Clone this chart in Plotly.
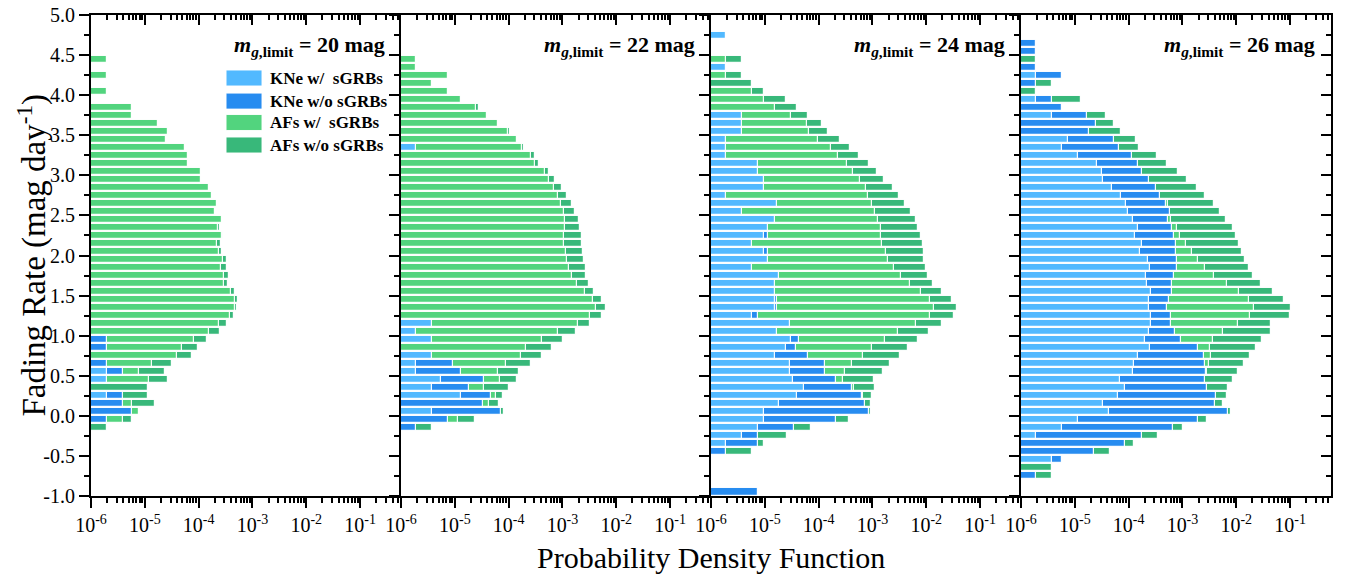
import plotly.graph_objects as go

N = None

# Fading-rate bin centres (mag/day), shared by every panel
rate_bins = [-0.95, -0.85, -0.75, -0.65, -0.55, -0.45, -0.35, -0.25, -0.15, -0.05,
             0.05, 0.15, 0.25, 0.35, 0.45, 0.55, 0.65, 0.75, 0.85, 0.95,
             1.05, 1.15, 1.25, 1.35, 1.45, 1.55, 1.65, 1.75, 1.85, 1.95,
             2.05, 2.15, 2.25, 2.35, 2.45, 2.55, 2.65, 2.75, 2.85, 2.95,
             3.05, 3.15, 3.25, 3.35, 3.45, 3.55, 3.65, 3.75, 3.85, 3.95,
             4.05, 4.15, 4.25, 4.35, 4.45, 4.55, 4.65, 4.75, 4.85, 4.95]

series_names = ["KNe w/  sGRBs", "KNe w/o sGRBs", "AFs w/  sGRBs", "AFs w/o sGRBs"]
series_colors = ["#52B9FF", "#278CF0", "#52D47E", "#38B87A"]
panel_limits = ["20", "22", "24", "26"]

x_tick_vals = [1e-6, 1e-5, 1e-4, 1e-3, 1e-2, 1e-1]
x_tick_text = ["10<sup>-6</sup>", "10<sup>-5</sup>", "10<sup>-4</sup>",
               "10<sup>-3</sup>", "10<sup>-2</sup>", "10<sup>-1</sup>"]
y_tick_vals = [-1.0, -0.5, 0.0, 0.5, 1.0, 1.5, 2.0, 2.5, 3.0, 3.5, 4.0, 4.5, 5.0]
y_tick_text = ["-1.0", "-0.5", "0.0", "0.5", "1.0", "1.5", "2.0", "2.5", "3.0",
               "3.5", "4.0", "4.5", "5.0"]

# log10(PDF) at the right edge of each stacked segment, per bin (None = no segment)
# ---- m_g,limit = 20 mag
m20_kne_w = [N, N, N, N, N, N, N, N, N, N,
             N, N, -5.70, N, -5.70, -5.70, N, N, N, N,
             N, N, N, N, N, N, N, N, N, N,
             N, N, N, N, N, N, N, N, N, N,
             N, N, N, N, N, N, N, N, N, N,
             N, N, N, N, N, N, N, N, N, N]
m20_kne_wo = [N, N, N, N, N, N, N, N, N, -5.70,
              -5.23, -5.41, -5.41, N, N, -5.41, -5.70, N, -5.70, -5.70,
              N, N, N, N, N, N, N, N, N, N,
              N, N, N, N, N, N, N, N, N, N,
              N, N, N, N, N, N, N, N, N, N,
              N, N, N, N, N, N, N, N, N, N]
m20_af_w = [N, N, N, N, N, N, N, N, N, -5.41,
            -5.11, -5.23, N, N, -4.93, -5.11, -4.86, -4.41, -4.30, -4.08,
            -3.80, -3.62, -3.42, -3.32, -3.32, -3.40, -3.52, -3.53, -3.59, -3.55,
            -3.62, -3.65, -3.57, -3.64, -3.57, -3.69, -3.66, -3.75, -3.80, -3.95,
            -3.95, -4.20, -4.19, -4.25, -4.60, -4.57, -4.76, -5.23, -5.23, N,
            -5.70, N, -5.70, N, -5.70, N, N, N, N, N]
m20_af_wo = [N, N, N, N, N, N, N, N, -5.70, -5.23,
             N, -4.81, -4.94, -4.94, -4.57, -4.63, -4.49, -4.12, -4.02, -3.84,
             -3.61, -3.47, -3.35, -3.28, -3.27, -3.32, -3.45, -3.43, -3.48, -3.48,
             -3.56, -3.58, -3.54, -3.61, N, N, N, N, N, N,
             N, N, N, N, N, N, N, N, N, N,
             N, N, N, N, N, N, N, N, N, N]

# ---- m_g,limit = 22 mag
m22_kne_w = [N, N, N, N, N, N, N, N, N, N,
             -5.43, N, -4.88, -5.43, -5.25, -5.72, -5.72, -5.43, N, -5.43,
             -5.72, -5.43, N, N, N, N, N, N, N, N,
             N, N, N, N, N, N, N, N, N, N,
             N, N, N, -5.72, N, N, N, N, N, N,
             N, N, N, N, N, N, N, N, N, N]
m22_kne_wo = [N, N, N, N, N, N, N, N, -5.72, -5.12,
              -4.14, -4.48, -4.32, -4.73, -4.46, -4.88, -5.03, N, N, N,
              N, N, N, N, N, N, N, N, N, N,
              N, N, N, N, N, N, N, N, N, N,
              N, N, N, N, N, N, N, N, N, N,
              N, N, N, N, N, N, N, N, N, N]
m22_af_w = [N, N, N, N, N, N, N, N, N, -4.94,
            N, -4.36, -4.23, -4.46, -4.16, -4.20, -4.04, -3.77, -3.68, -3.38,
            -3.08, -2.72, -2.48, -2.38, -2.44, -2.59, -2.73, -2.83, -2.88, -2.92,
            -2.94, -2.97, -2.98, -2.96, -2.96, -2.98, -3.03, -3.08, -3.15, -3.25,
            -3.32, -3.51, -3.59, -3.75, -3.85, -4.01, -4.20, -4.41, -4.61, -4.89,
            -5.12, -5.43, -5.12, -5.72, -5.72, N, N, N, N, N]
m22_af_wo = [N, N, N, N, N, N, N, N, -5.43, -4.62,
             -4.08, -4.17, -4.11, -4.00, -3.85, -3.81, -3.59, -3.38, -3.20, -2.99,
             -2.75, -2.48, -2.26, -2.19, -2.27, -2.41, -2.51, -2.57, -2.57, -2.60,
             -2.61, -2.63, -2.64, -2.67, -2.70, -2.76, -2.83, -2.91, -3.01, -3.13,
             -3.25, -3.43, -3.51, -3.72, N, -3.97, N, N, -4.56, N,
             N, N, N, N, N, N, N, N, N, N]

# ---- m_g,limit = 24 mag
m24_kne_w = [N, N, N, N, N, N, -5.72, -5.42, -5.12, -5.02,
             -5.02, -4.73, -4.41, -4.27, -4.47, -4.54, -4.54, -4.82, -4.61, -4.52,
             -4.77, -4.54, -5.24, -4.82, -4.82, -4.82, -4.82, -4.73, -5.24, -4.95,
             -5.02, -5.24, -5.02, -4.95, -4.82, -5.42, -4.77, -5.72, -5.02, -5.02,
             -5.12, -5.12, -5.72, -5.72, -5.72, -5.42, -5.42, -5.42, N, N,
             N, N, N, -5.72, N, N, N, -5.72, N, N]
m24_kne_wo = [-5.12, N, N, N, N, -5.72, -5.12, -5.12, -4.45, -3.67,
              -3.07, -3.14, -3.19, -3.38, -3.68, -3.88, -3.88, -4.20, -4.43, -4.36,
              N, N, -5.12, -4.77, -4.77, N, N, N, N, N,
              -4.95, N, -4.95, N, N, N, N, N, N, N,
              N, N, N, N, N, N, N, N, N, N,
              N, N, N, N, N, N, N, N, N, N]
m24_af_w = [N, N, N, N, N, N, N, N, N, N,
            N, N, -3.17, -3.35, -3.54, -3.51, -3.38, -3.17, -3.01, -2.76,
            -2.52, -2.19, -1.93, -1.86, -1.93, -2.10, -2.31, -2.47, -2.60, -2.71,
            -2.75, -2.82, -2.85, -2.85, -2.90, -2.95, -3.01, -3.08, -3.12, -3.24,
            -3.36, -3.47, -3.64, -3.77, -4.02, -4.17, -4.21, -4.52, -4.82, -5.02,
            -5.24, N, -5.72, N, -5.72, N, N, N, N, N]
m24_af_wo = [N, N, N, N, N, -5.24, -5.02, -4.58, -4.14, -3.44,
             -3.02, -3.03, -3.01, -2.96, -2.97, -2.81, -2.67, -2.49, -2.34, -2.16,
             -1.95, -1.70, -1.49, -1.42, -1.52, -1.71, -1.87, -1.96, -2.01, -2.04,
             -2.04, -2.06, -2.09, -2.15, -2.20, -2.29, -2.40, -2.51, -2.62, -2.78,
             -2.91, -3.07, -3.25, -3.41, -3.60, -3.83, -3.94, -4.19, -4.41, -4.61,
             -5.02, -5.24, -5.42, N, -5.42, N, N, N, N, N]

# ---- m_g,limit = 26 mag
m26_kne_w = [N, N, N, N, -5.42, N, N, -5.72, -5.24, -4.95,
             -4.37, -4.48, -4.19, -4.06, -4.16, -3.92, -3.90, -3.82, -3.60, -3.69,
             -3.62, -3.58, -3.59, -3.62, -3.62, -3.58, -3.65, -3.67, -3.60, -3.64,
             -3.78, -3.76, -3.88, -3.82, -3.91, -4.01, -4.04, -4.14, -4.30, -4.47,
             -4.50, -4.59, -4.95, -5.24, -5.12, N, N, -5.42, N, -5.72,
             N, N, -5.72, N, N, N, N, N, N, N]
m26_kne_wo = [N, N, -5.72, N, -5.24, -4.64, -4.07, -3.75, -3.17, -2.71,
              -2.16, -2.40, -2.38, -2.54, -2.59, -2.57, -2.58, -2.60, -2.72, -3.03,
              -3.14, -3.21, -3.21, -3.29, -3.25, -3.20, -3.20, -3.16, -3.10, -3.10,
              -3.12, -3.12, -3.15, -3.19, -3.27, -3.23, -3.31, -3.41, -3.49, -3.62,
              -3.76, -3.82, -3.93, -4.17, -4.27, -4.73, -4.61, -4.77, -5.24, -5.42,
              N, -5.72, -5.24, -5.72, N, -5.72, -5.72, N, N, N]
m26_af_w = [N, N, N, N, N, N, N, N, N, N,
            N, N, N, N, N, -2.54, -2.51, -2.47, -2.48, -2.44,
            -2.25, -1.97, -1.75, -1.68, -1.77, -1.95, -2.18, -2.41, -2.58, -2.71,
            -2.83, -2.93, -3.04, -3.10, -3.22, N, -3.27, N, N, N,
            N, N, N, N, N, N, N, N, N, N,
            N, N, N, N, N, N, N, N, N, N]
m26_af_wo = [N, N, -5.42, -5.42, N, -4.35, -3.90, -3.46, -2.99, -2.54,
             -2.10, -2.25, -2.17, -2.16, -2.07, -1.97, -1.86, -1.74, -1.64, -1.52,
             -1.36, -1.35, -1.01, -0.99, -1.11, -1.32, -1.54, -1.69, -1.77, -1.83,
             -1.89, -1.95, -2.01, -2.07, -2.19, -2.30, -2.41, -2.59, -2.73, -2.92,
             -3.09, -3.28, -3.48, -3.80, -3.87, -4.15, -4.28, -4.43, N, -4.88,
             -5.72, -5.42, N, N, -5.72, N, N, N, N, N]

panels = [
    [m20_kne_w, m20_kne_wo, m20_af_w, m20_af_wo],
    [m22_kne_w, m22_kne_wo, m22_af_w, m22_af_wo],
    [m24_kne_w, m24_kne_wo, m24_af_w, m24_af_wo],
    [m26_kne_w, m26_kne_wo, m26_af_w, m26_af_wo],
]

FONT = "'Liberation Serif', 'Times New Roman', serif"
X_RANGE = [-6, -0.24]
Y_RANGE = [-1, 5]
x_minor = [k * v for v in [1e-6, 1e-5, 1e-4, 1e-3, 1e-2, 1e-1] for k in range(2, 10)]
y_minor = [-0.75, -0.25, 0.25, 0.75, 1.25, 1.75, 2.25, 2.75, 3.25, 3.75, 4.25, 4.75]

fig = go.Figure()

for p, series in enumerate(panels):
    xa = "x" if p == 0 else f"x{p+1}"
    ya = "y" if p == 0 else f"y{p+1}"
    # back-to-front so that each stacked segment's right edge stays visible
    for s in [3, 2, 1, 0]:
        vals = [None if v is None else 10 ** v for v in series[s]]
        fig.add_trace(go.Bar(
            orientation="h", y=rate_bins, x=vals, width=0.088,
            marker=dict(color=series_colors[s],
                        line=dict(color="rgba(255,255,255,0.95)", width=1.2)),
            name=series_names[s], xaxis=xa, yaxis=ya,
            showlegend=False, hoverinfo="skip"))
    # invisible anchor trace for the top (inward-tick) axis
    fig.add_trace(go.Scatter(x=[1e-3], y=[2], mode="markers",
                             marker=dict(opacity=0), xaxis=f"x{p+5}", yaxis=ya,
                             showlegend=False, hoverinfo="skip"))

fig.add_trace(go.Scatter(x=[1e-3], y=[2], mode="markers", marker=dict(opacity=0),
                         xaxis="x4", yaxis="y5", showlegend=False, hoverinfo="skip"))

tickfont = dict(family=FONT, size=20, color="black")
layout = dict(
    width=1346, height=574,
    margin=dict(l=91, r=15, t=15, b=78, autoexpand=False),
    paper_bgcolor="white", plot_bgcolor="white",
    barmode="overlay", bargap=0,
    font=dict(family=FONT, color="black"),
)

for p in range(4):
    kx = "xaxis" if p == 0 else f"xaxis{p+1}"
    ky = "yaxis" if p == 0 else f"yaxis{p+1}"
    layout[kx] = dict(
        domain=[p * 0.25, (p + 1) * 0.25], type="log", range=X_RANGE,
        anchor="y" if p == 0 else f"y{p+1}", automargin=False,
        tickmode="array", tickvals=x_tick_vals, ticktext=x_tick_text,
        ticks="outside", ticklen=10, tickwidth=2, tickcolor="black",
        minor=dict(tickvals=x_minor, ticks="outside", ticklen=5, tickwidth=1.5,
                   tickcolor="black", showgrid=False),
        showline=True, linewidth=2, linecolor="black", mirror=True,
        showgrid=False, zeroline=False, tickfont=tickfont, fixedrange=True,
        ticklabeloverflow="allow")
    layout[ky] = dict(
        domain=[0, 1], range=Y_RANGE,
        anchor="x" if p == 0 else f"x{p+1}", automargin=False,
        tickmode="array", tickvals=y_tick_vals, ticktext=y_tick_text,
        showticklabels=(p == 0),
        ticks="outside", ticklen=10, tickwidth=2, tickcolor="black",
        minor=dict(tickvals=y_minor, ticks="outside", ticklen=5, tickwidth=1.5,
                   tickcolor="black", showgrid=False),
        showline=True, linewidth=2, linecolor="black", mirror=(p == 3),
        showgrid=False, zeroline=False, tickfont=tickfont, fixedrange=True,
        ticklabeloverflow="allow")
    # top axis with inward ticks
    layout[f"xaxis{p+5}"] = dict(
        overlaying="x" if p == 0 else f"x{p+1}", side="top",
        anchor="y" if p == 0 else f"y{p+1}", automargin=False,
        type="log", range=X_RANGE,
        tickmode="array", tickvals=x_tick_vals, showticklabels=False,
        ticks="inside", ticklen=10, tickwidth=2, tickcolor="black",
        minor=dict(tickvals=x_minor, ticks="inside", ticklen=5, tickwidth=1.5,
                   tickcolor="black", showgrid=False),
        showline=False, showgrid=False, zeroline=False, fixedrange=True)

# right axis of the last panel with inward ticks
layout["yaxis5"] = dict(
    overlaying="y4", side="right", anchor="x4", range=Y_RANGE, automargin=False,
    tickmode="array", tickvals=y_tick_vals, showticklabels=False,
    ticks="inside", ticklen=10, tickwidth=2, tickcolor="black",
    minor=dict(tickvals=y_minor, ticks="inside", ticklen=5, tickwidth=1.5,
               tickcolor="black", showgrid=False),
    showline=False, showgrid=False, zeroline=False, fixedrange=True)

fig.update_layout(**layout)

annotations = []
shapes = []
for p, lim in enumerate(panel_limits):
    xd = "x domain" if p == 0 else f"x{p+1} domain"
    yd = "y domain" if p == 0 else f"y{p+1} domain"
    annotations.append(dict(
        text=f"<b><i>m</i><sub><i>g</i>,limit</sub> = {lim} mag</b>",
        xref=xd, yref=yd, x=0.955, y=0.935, xanchor="right", yanchor="middle",
        showarrow=False, font=dict(family=FONT, size=22, color="black")))

# legend (inside the first panel)
leg_rows = [0.869, 0.821, 0.7765, 0.7297]
for i, name in enumerate(series_names):
    yc = leg_rows[i]
    shapes.append(dict(type="rect", xref="paper", yref="paper",
                       x0=0.1089, x1=0.1379, y0=yc - 0.0166, y1=yc + 0.0166,
                       fillcolor=series_colors[i],
                       line=dict(color="rgba(255,255,255,0.9)", width=1)))
    annotations.append(dict(
        text=f"<b>{name.replace('  ', '&nbsp; ')}</b>", xref="paper", yref="paper",
        x=0.1427, y=yc, xanchor="left", yanchor="middle", showarrow=False,
        font=dict(family=FONT, size=17, color="black")))

annotations.append(dict(
    text="Probability Density Function", xref="paper", yref="paper",
    x=0.5, y=-0.127, xanchor="center", yanchor="middle", showarrow=False,
    font=dict(family=FONT, size=30, color="black")))
annotations.append(dict(
    text="Fading Rate (mag day<sup>-1</sup>)", xref="paper", yref="paper",
    x=-0.0475, y=0.5, xanchor="center", yanchor="middle", textangle=-90,
    showarrow=False, font=dict(family=FONT, size=33, color="black")))

fig.update_layout(annotations=annotations, shapes=shapes)

# remove the browser's default 8 px body margin so the figure fills the window
fig.write_html("out.html",
               config={"displayModeBar": False},
               post_script="document.body.style.margin='0px';")
